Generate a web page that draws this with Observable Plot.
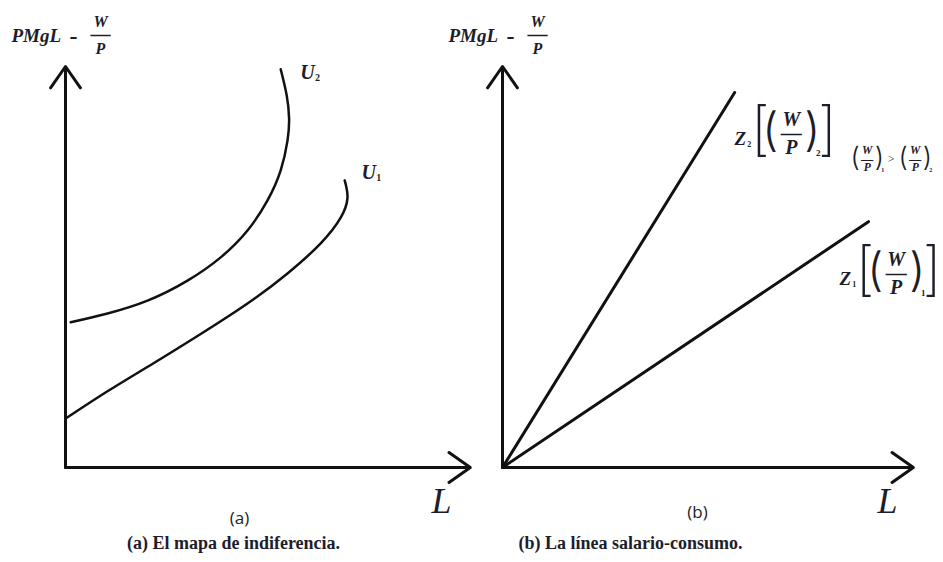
<!DOCTYPE html>
<html><head><meta charset="utf-8">
<script src="https://cdn.jsdelivr.net/npm/d3@7"></script>
<script src="https://cdn.jsdelivr.net/npm/@observablehq/plot@0.6"></script>
<style>
html,body{margin:0;padding:0;background:#fff}
#wrap{position:relative;width:943px;height:562px;overflow:hidden}
#wrap svg{position:absolute;top:0}
</style>
</head><body><div id="wrap"></div>
<script>
// ---------- data ----------
// Panel (a): indifference curves (L, PMgL = W/P)
const u1L = [0.05, 1.05, 2.2, 3.38, 4.55, 5.55, 6.38, 6.88, 7.05, 6.98];
const u1Y = [1.25, 1.90, 2.60, 3.33, 4.09, 4.84, 5.59, 6.23, 6.73, 7.16];
const u2L = [0.13, 1.05, 2.05, 3.05, 3.88, 4.55, 5.05, 5.38, 5.55, 5.59, 5.53, 5.38];
const u2Y = [3.62, 3.84, 4.16, 4.66, 5.24, 5.91, 6.66, 7.41, 8.15, 8.70, 9.28, 9.93];
const uLabelL = [7.58, 6.05];
const uLabelY = [7.36, 9.85];
const uSubs = ["1", "2"];

// Panel (b): wage-consumption lines from origin
const zEndL = [8.97, 5.69];
const zEndY = [6.13, 9.35];
const zSubs = ["1", "2"];
const zLabelL = [8.40, 5.83];
const zLabelY = [4.71, 8.20];
const ineqL = [8.62];
const ineqY = [7.70];

// axes extents
const axisMaxA = [10.12, 10];
const axisMaxB = [10.07, 10];

const headerParts = ["PMgL", "-"];
const captions = ["(a) El mapa de indiferencia.", "(b) La línea salario-consumo."];
const panelTags = ["(a)", "(b)"];
const axisTitle = "L";

// ---------- styles ----------
const INK = "#1d1d2b";
const SERIF = "Liberation Serif, DejaVu Serif, serif";
const THIN = "Inter, Lato, DejaVu Sans, sans-serif";
const SANS = "Open Sans, DejaVu Sans, sans-serif";

function fracMarks(data, ox, oy, k, subText) {
  const c = {x: "x", y: "y", fill: INK, fontFamily: SERIF};
  const m = [
    Plot.text(data, {...c, text: () => "(", dx: ox - 21*k, dy: oy - 2*k, fontSize: 46*k, fontFamily: THIN, fontWeight: 300}),
    Plot.text(data, {...c, text: () => ")", dx: ox + 21*k, dy: oy - 2*k, fontSize: 46*k, fontFamily: THIN, fontWeight: 300}),
    Plot.text(data, {...c, text: () => "W", dx: ox, dy: oy - 14*k, fontSize: 20*k, fontStyle: "italic", fontWeight: "bold"}),
    Plot.text(data, {...c, text: () => "—", dx: ox, dy: oy, fontSize: 21*k, fontWeight: "bold"}),
    Plot.text(data, {...c, text: () => "P", dx: ox, dy: oy + 14*k, fontSize: 20*k, fontStyle: "italic", fontWeight: "bold"})
  ];
  if (subText) m.push(Plot.text(data, {...c, text: subText, dx: ox + 27*k, dy: oy + 19*k, fontSize: Math.max(6, 9*k), fontWeight: "bold"}));
  return m;
}

function headerMarks(tip) {
  const d = [tip];
  const c = {x: "x", y: "y", fill: INK, fontFamily: SERIF, fontWeight: "bold"};
  return [
    Plot.text(d, {...c, text: () => headerParts[0], textAnchor: "start", dx: -54, dy: -31, fontSize: 19, fontStyle: "italic"}),
    Plot.text(d, {...c, text: () => headerParts[1], dx: 8, dy: -30, fontSize: 24}),
    Plot.text(d, {...c, text: () => "W", dx: 35, dy: -45, fontSize: 16, fontStyle: "italic"}),
    Plot.text(d, {...c, text: () => "—", dx: 35, dy: -32, fontSize: 20}),
    Plot.text(d, {...c, text: () => "P", dx: 35, dy: -18, fontSize: 16, fontStyle: "italic"})
  ];
}

function axesMarks(maxv) {
  const ax = [
    {x1: 0, y1: 0, x2: 0, y2: maxv[1]},
    {x1: 0, y1: 0, x2: maxv[0], y2: 0}
  ];
  return Plot.arrow(ax, {x1: "x1", y1: "y1", x2: "x2", y2: "y2", stroke: "#111", strokeWidth: 3, headLength: 13, headAngle: 70});
}

const wrap = document.getElementById("wrap");

// ---------- panel (a) ----------
const u1 = u1L.map((v, i) => ({x: v, y: u1Y[i]}));
const u2 = u2L.map((v, i) => ({x: v, y: u2Y[i]}));
const uLab = uLabelL.map((v, i) => ({x: v, y: uLabelY[i], sub: uSubs[i]}));

const plotA = Plot.plot({
  width: 475, height: 562,
  marginLeft: 65, marginRight: 10, marginTop: 66, marginBottom: 95,
  x: {domain: [0, 10], axis: null},
  y: {domain: [0, 10], axis: null},
  style: {background: "transparent", overflow: "visible"},
  marks: [
    axesMarks(axisMaxA),
    Plot.line(u1, {x: "x", y: "y", curve: "natural", stroke: "#111", strokeWidth: 2.5}),
    Plot.line(u2, {x: "x", y: "y", curve: "natural", stroke: "#111", strokeWidth: 2.5}),
    Plot.text(uLab, {x: "x", y: "y", text: () => "U", fill: INK, fontFamily: SERIF, fontStyle: "italic", fontWeight: "bold", fontSize: 20}),
    Plot.text(uLab, {x: "x", y: "y", text: "sub", fill: INK, fontFamily: SERIF, fontWeight: "bold", fontSize: 10, dx: 10, dy: 5}),
    ...headerMarks({x: 0, y: axisMaxA[1]}),
    Plot.text([axisTitle], {text: d => d, frameAnchor: "bottom-right", dx: -14, dy: 45, fill: INK, fontFamily: SERIF, fontStyle: "italic", fontSize: 36}),
    Plot.text([panelTags[0]], {text: d => d, frameAnchor: "bottom", dx: -26, dy: 56, fill: "#222", fontFamily: SANS, fontSize: 17}),
    Plot.text([captions[0]], {text: d => d, frameAnchor: "bottom", dx: -32, dy: 81, fill: INK, fontFamily: SERIF, fontWeight: "bold", fontSize: 18})
  ]
});
plotA.style.left = "0px";
wrap.appendChild(plotA);

// ---------- panel (b) ----------
const zLines = zEndL.flatMap((v, i) => [{x: 0, y: 0, k: zSubs[i]}, {x: v, y: zEndY[i], k: zSubs[i]}]);
const zLab = zLabelL.map((v, i) => ({x: v, y: zLabelY[i], sub: zSubs[i]}));
const ineq = ineqL.map((v, i) => ({x: v, y: ineqY[i]}));
const br = {x: "x", y: "y", fill: INK, fontFamily: THIN, fontWeight: 200, fontSize: 58};

const plotB = Plot.plot({
  width: 503, height: 562,
  marginLeft: 62, marginRight: 33, marginTop: 66, marginBottom: 95,
  x: {domain: [0, 10], axis: null},
  y: {domain: [0, 10], axis: null},
  style: {background: "transparent", overflow: "visible"},
  marks: [
    axesMarks(axisMaxB),
    Plot.line(zLines, {x: "x", y: "y", z: "k", stroke: "#111", strokeWidth: 3}),
    // Z labels
    Plot.text(zLab, {x: "x", y: "y", text: () => "Z", fill: INK, fontFamily: SERIF, fontStyle: "italic", fontWeight: "bold", fontSize: 19}),
    Plot.text(zLab, {x: "x", y: "y", text: "sub", fill: INK, fontFamily: SERIF, fontWeight: "bold", fontSize: 8, dx: 9, dy: 6}),
    Plot.text(zLab, {...br, text: () => "[", dx: 20, dy: -8}),
    Plot.text(zLab, {...br, text: () => "]", dx: 87, dy: -8}),
    ...fracMarks(zLab, 51, -5, 1, "sub"),
    // inequality
    ...fracMarks(ineq, 13, 0, 0.58, () => "1"),
    Plot.text(ineq, {x: "x", y: "y", text: () => ">", dx: 37, dy: 0, fill: INK, fontFamily: SERIF, fontSize: 12}),
    ...fracMarks(ineq, 61, 0, 0.58, () => "2"),
    ...headerMarks({x: 0, y: axisMaxB[1]}),
    Plot.text([axisTitle], {text: d => d, frameAnchor: "bottom-right", dx: -13, dy: 45, fill: INK, fontFamily: SERIF, fontStyle: "italic", fontSize: 36}),
    Plot.text([panelTags[1]], {text: d => d, frameAnchor: "bottom", dx: -9, dy: 50, fill: "#222", fontFamily: SANS, fontSize: 17}),
    Plot.text([captions[1]], {text: d => d, frameAnchor: "bottom", dx: -76, dy: 81, fill: INK, fontFamily: SERIF, fontWeight: "bold", fontSize: 18})
  ]
});
plotB.style.left = "440px";
wrap.appendChild(plotB);
</script>
</body></html>
